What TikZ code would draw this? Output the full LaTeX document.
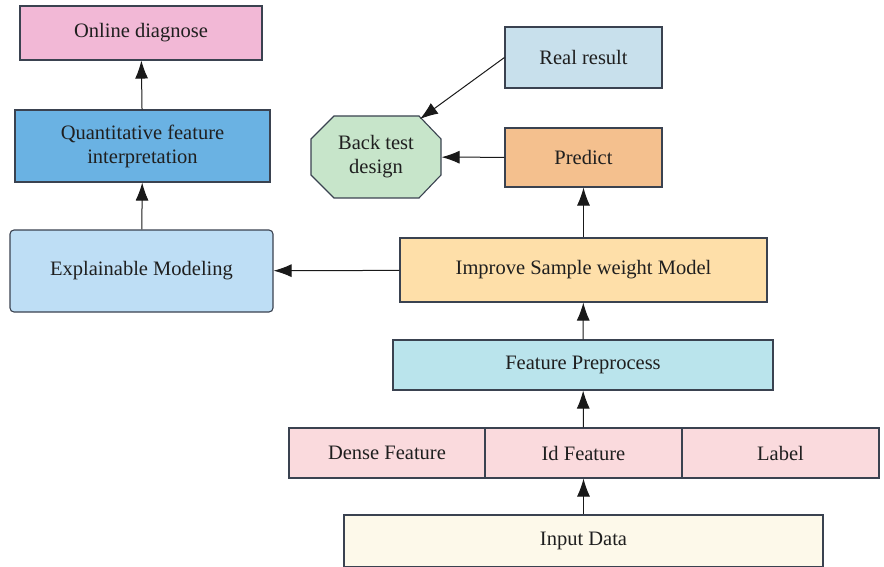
\documentclass[tikz,border=0pt]{standalone}
\usepackage{fontspec}
\setmainfont{Liberation Serif}
\usetikzlibrary{arrows.meta}
\definecolor{edgec}{HTML}{3A4250}
\definecolor{codc}{HTML}{F2B8D6}
\definecolor{cqfc}{HTML}{6AB2E3}
\definecolor{cemc}{HTML}{BEDEF5}
\definecolor{crrc}{HTML}{C8E0EC}
\definecolor{cbtc}{HTML}{C7E5CA}
\definecolor{cprc}{HTML}{F4C08E}
\definecolor{cimc}{HTML}{FEDFA9}
\definecolor{cfpc}{HTML}{BAE4EC}
\definecolor{cdfc}{HTML}{FADADD}
\definecolor{cinc}{HTML}{FDF9EA}
\tikzset{
  box/.style={draw=edgec, line width=1.1pt, inner sep=0pt, align=center, font=\fontsize{20.5}{24}\selectfont, text=black!88},
  conn/.style={draw=black!90, line width=1pt, -{Latex[length=18pt,width=13pt]}},
}
\begin{document}
\begin{tikzpicture}[x=1pt,y=-1pt]
\useasboundingbox (0,0) rectangle (884,567);
\node[box, fill=codc, minimum width=242pt, minimum height=54pt] (od) at (141,33) {Online diagnose};
\node[box, fill=cqfc, minimum width=255pt, minimum height=72pt] (qf) at (142.5,146) {Quantitative feature\\interpretation};
\node[box, fill=cemc, minimum width=263pt, minimum height=82pt, rounded corners=4pt] (em) at (141.5,271) {Explainable Modeling};
\node[box, fill=crrc, minimum width=157pt, minimum height=61pt] (rr) at (583.5,57.5) {Real result};
\draw[draw=edgec, line width=1.1pt, fill=cbtc] (334,116) -- (419,116) -- (441,139) -- (441,175) -- (419,198) -- (334,198) -- (311,175) -- (311,139) -- cycle;
\node[box, draw=none, minimum width=130pt, minimum height=82pt] (bt) at (376,157) {Back test\\design};
\coordinate (btne) at (420,119);
\node[box, fill=cprc, minimum width=157pt, minimum height=59pt] (pr) at (583.5,157.5) {Predict};
\node[box, fill=cimc, minimum width=367pt, minimum height=64pt] (im) at (583.5,270) {Improve Sample weight Model};
\node[box, fill=cfpc, minimum width=380pt, minimum height=50pt] (fp) at (583,365) {Feature Preprocess};
\node[box, fill=cdfc, minimum width=196pt, minimum height=50pt] (df) at (387,453) {Dense Feature};
\node[box, fill=cdfc, minimum width=197pt, minimum height=50pt] (id) at (583.5,453) {Id Feature};
\node[box, fill=cdfc, minimum width=197pt, minimum height=50pt] (lb) at (780.5,453) {Label};
\node[box, fill=cinc, minimum width=479pt, minimum height=52pt] (in) at (583.5,541) {Input Data};
\draw[conn] (qf) -- (od);
\draw[conn] (em) -- (qf);
\draw[conn] (im) -- (em);
\draw[conn] (im) -- (pr);
\draw[conn] (pr) -- (bt);
\draw[conn] (rr.west) -- (btne);
\draw[conn] (fp) -- (im);
\draw[conn] (id) -- (fp);
\draw[conn] (in) -- (id);
\end{tikzpicture}
\end{document}
